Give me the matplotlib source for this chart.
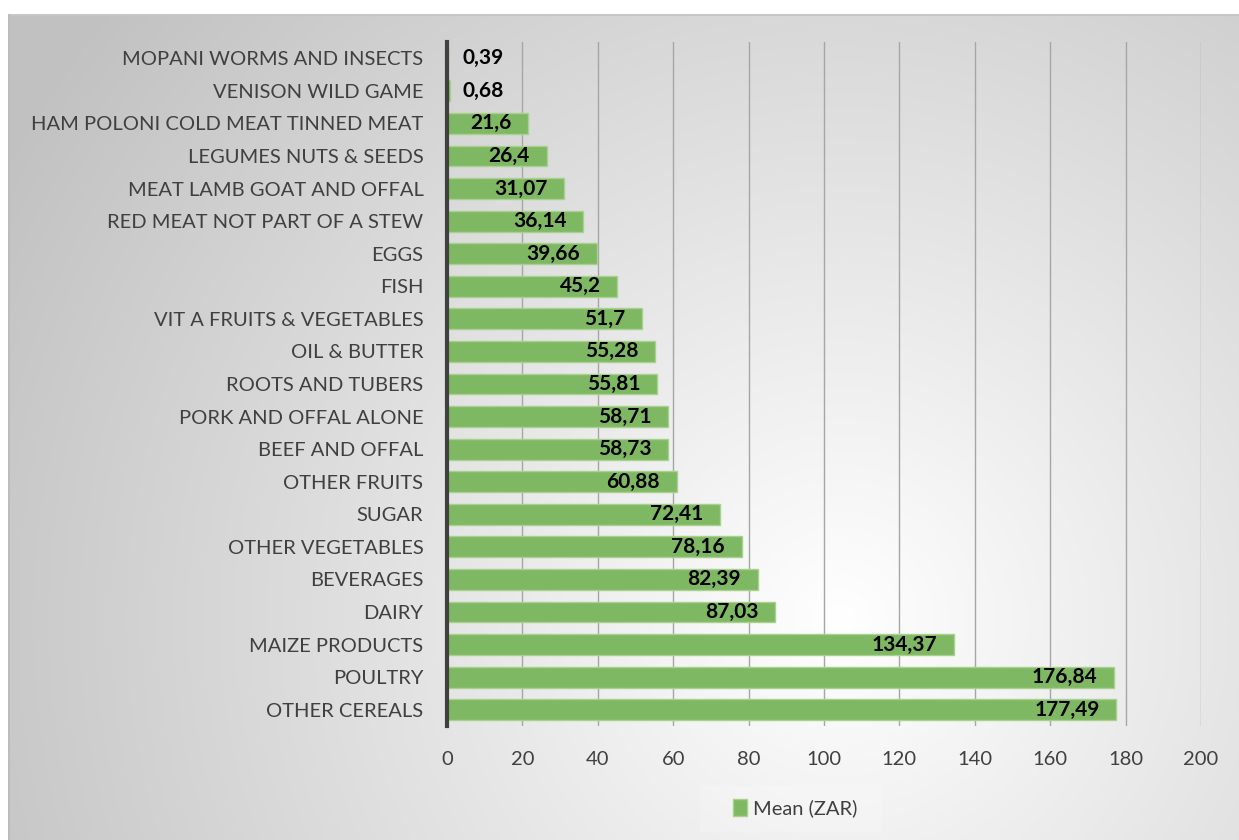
import numpy as np
import matplotlib
matplotlib.use("Agg")
import matplotlib.pyplot as plt
from matplotlib import font_manager as fm

categories = ["MOPANI WORMS AND INSECTS", "VENISON WILD GAME", "HAM POLONI COLD MEAT TINNED MEAT",
              "LEGUMES NUTS & SEEDS", "MEAT LAMB GOAT AND OFFAL", "RED MEAT NOT PART OF A STEW",
              "EGGS", "FISH", "VIT A FRUITS & VEGETABLES", "OIL & BUTTER", "ROOTS AND TUBERS",
              "PORK AND OFFAL ALONE", "BEEF AND OFFAL", "OTHER FRUITS", "SUGAR", "OTHER VEGETABLES",
              "BEVERAGES", "DAIRY", "MAIZE PRODUCTS", "POULTRY", "OTHER CEREALS"]
values = [0.39, 0.68, 21.6, 26.4, 31.07, 36.14, 39.66, 45.2, 51.7, 55.28, 55.81, 58.71, 58.73,
          60.88, 72.41, 78.16, 82.39, 87.03, 134.37, 176.84, 177.49]
value_labels = ["0,39", "0,68", "21,6", "26,4", "31,07", "36,14", "39,66", "45,2", "51,7", "55,28",
                "55,81", "58,71", "58,73", "60,88", "72,41", "78,16", "82,39", "87,03", "134,37",
                "176,84", "177,49"]
xticks = [0, 20, 40, 60, 80, 100, 120, 140, 160, 180, 200]
legend_label = "Mean (ZAR)"

names = {f.name for f in fm.fontManager.ttflist}
fam = [f for f in ["Lato", "Open Sans", "DejaVu Sans"] if f in names]
plt.rcParams['font.family'] = fam

W, H = 1239, 840
fig = plt.figure(figsize=(W / 100, H / 100), dpi=100)

# background radial gradient panel
bg = fig.add_axes([0, 0, 1, 1], zorder=-10)
yy, xx = np.mgrid[0:H, 0:W]
d = np.sqrt((xx - 840) ** 2 + (yy - 620) ** 2)
t = np.clip(d / 950, 0, 1)
g = 1.0 - 0.24 * t
img = np.stack([g, g, g], axis=-1)
img[:14, :, :] = 1.0
img[:, :8, :] = 1.0
img[14:16, 8:, :] = 0.78
img[14:, 8:10, :] = 0.74
bg.imshow(img, extent=[0, W, H, 0], aspect='auto', interpolation='bilinear')
bg.set_xlim(0, W); bg.set_ylim(H, 0)
bg.axis('off')

# legend backdrop
bg.add_patch(plt.Rectangle((700, 785), 182, 47, facecolor='white', alpha=0.18, edgecolor='none'))

x0, x1 = 447 / W, 1201 / W
ytop, ybot = 42 / H, 726 / H
ax = fig.add_axes([x0, 1 - ybot, x1 - x0, ybot - ytop])
ax.patch.set_alpha(0)

y = np.arange(len(categories))
ax.barh(y, values, height=0.64, color='#7fb862', edgecolor='#a8d18f', linewidth=1.0, zorder=3,
        label=legend_label)
ax.set_ylim(len(categories) - 0.5, -0.5)
ax.set_xlim(0, 200)
ax.set_xticks(xticks)
ax.set_xticklabels([str(v) for v in xticks])
ax.set_yticks(y)
ax.set_yticklabels(categories)
ax.tick_params(axis='y', length=0, pad=17, labelsize=14.5, labelcolor='#404040')
ax.tick_params(axis='x', length=0, pad=18, labelsize=14.5, labelcolor='#404040')
ax.grid(axis='x', color='#a6a6a6', linewidth=1.0, zorder=0)
for s in ['top', 'right', 'bottom']:
    ax.spines[s].set_visible(False)
ax.spines['left'].set_color('#404040')
ax.spines['left'].set_linewidth(3)
ax.spines['left'].set_zorder(5)

for yi, v, lab in zip(y, values, value_labels):
    if v < 5:
        ax.annotate(lab, (0, yi), xytext=(11, 0), textcoords='offset points', ha='left', va='center',
                    fontsize=15, fontweight='bold', color='black', zorder=6)
    else:
        ax.annotate(lab, (v, yi), xytext=(-12, 0), textcoords='offset points', ha='right', va='center',
                    fontsize=15, fontweight='bold', color='black', zorder=6)

leg = fig.legend(loc='center', bbox_to_anchor=(795 / W, 1 - 808 / H), frameon=False, fontsize=14.5,
                 handlelength=0.7, handleheight=0.9, handletextpad=0.3, labelcolor='#404040')

fig.savefig("out.png", dpi=100)
